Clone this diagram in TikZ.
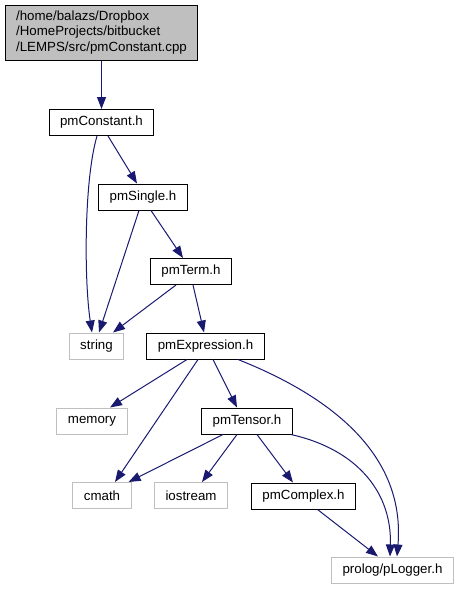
\documentclass[tikz,border=0pt]{standalone}
\usepackage{fontspec}
\setmainfont{Liberation Sans}
\usetikzlibrary{arrows.meta}
\definecolor{edgeblue}{HTML}{191970}
\definecolor{sysgray}{HTML}{BFBFBF}
\begin{document}
\begin{tikzpicture}[x=1pt,y=-1pt,
  box/.style={rectangle, draw=black, line width=1pt, inner xsep=11pt, inner ysep=0pt, minimum height=26pt, font=\fontsize{13.3}{15.5}\selectfont},
  hdr/.style={box},
  sys/.style={box, draw=sysgray},
  top/.style={box, fill=sysgray, align=left, minimum height=55pt},
  dep/.style={draw=edgeblue, line width=1pt, -{Triangle[length=12pt,width=9pt]}}]
\useasboundingbox (0,0) rectangle (457,589);
\node [top] (src) at (101.5,32.5) {/home/balazs/Dropbox\\/HomeProjects/bitbucket\\/LEMPS/src/pmConstant.cpp};
\node [hdr] (cons) at (101.5,122.5) {pmConstant.h};
\node [hdr] (single) at (143,197) {pmSingle.h};
\node [hdr] (term) at (191,271.5) {pmTerm.h};
\node [sys] (string) at (96.5,346) {string};
\node [hdr] (expr) at (205.5,346) {pmExpression.h};
\node [sys] (memory) at (92,421) {memory};
\node [hdr] (tensor) at (247,421) {pmTensor.h};
\node [sys] (cmath) at (102,495.5) {cmath};
\node [sys] (iostream) at (191,495.5) {iostream};
\node [hdr] (complex) at (303.5,496) {pmComplex.h};
\node [sys] (logger) at (392.5,570) {prolog/pLogger.h};
\draw [dep] (src.south) -- (cons.north);
\draw [dep] ([xshift=-4.5pt]cons.south) .. controls (84,180) and (84,280) .. ([xshift=-4.5pt]string.north);
\draw [dep] ([xshift=6.5pt]cons.south) -- ([xshift=-6pt]single.north);
\draw [dep] ([xshift=-4pt]single.south) -- ([xshift=2.5pt]string.north);
\draw [dep] ([xshift=8pt]single.south) -- ([xshift=-8pt]term.north);
\draw [dep] ([xshift=-15pt]term.south) -- ([xshift=16.5pt]string.north);
\draw [dep] ([xshift=2pt]term.south) -- ([xshift=-1.5pt]expr.north);
\draw [dep] ([xshift=-18.5pt]expr.south) -- ([xshift=18pt]memory.north);
\draw [dep] ([xshift=-7.5pt]expr.south) -- ([xshift=13pt]cmath.north);
\draw [dep] ([xshift=7.5pt]expr.south) -- ([xshift=-10pt]tensor.north);
\draw [dep] ([xshift=32.5pt]expr.south) .. controls (340,400) and (405,460) .. ([xshift=4.5pt]logger.north);
\draw [dep] ([xshift=-24pt]tensor.south) -- ([xshift=-3pt]cmath.north east);
\draw [dep] ([xshift=-10pt]tensor.south) -- ([xshift=11pt]iostream.north);
\draw [dep] ([xshift=10pt]tensor.south) -- ([xshift=-10.5pt]complex.north);
\draw [dep] ([xshift=-2pt]tensor.south east) .. controls (360,450) and (392,495) .. ([xshift=-2.5pt]logger.north);
\draw [dep] ([xshift=14pt]complex.south) -- ([xshift=-14.5pt]logger.north);
\end{tikzpicture}
\end{document}
